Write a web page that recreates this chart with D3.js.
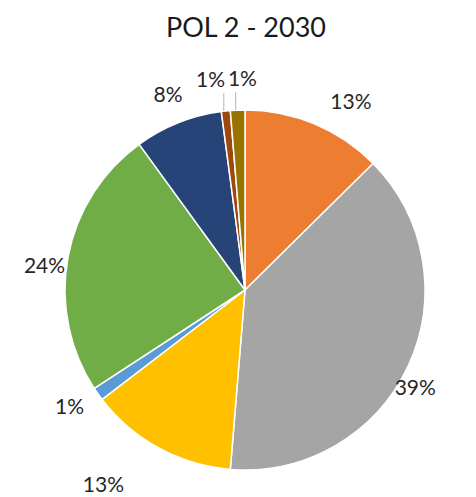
<!DOCTYPE html>
<html>
<head>
<meta charset="utf-8">
<script src="https://cdn.jsdelivr.net/npm/d3@7"></script>
<style>
  html, body { margin: 0; padding: 0; background: #fff; }
  svg { display: block; }
</style>
</head>
<body>
<svg id="chart" width="476" height="497"></svg>
<script>
// ---- data ----
const title = "POL 2 - 2030";
const categories = ["A", "B", "C", "D", "E", "F", "G", "H"];
const values = [12.6, 38.7, 13.3, 1.2, 24.2, 7.9, 0.8, 1.3];
const colors = ["#ED7D31", "#A5A5A5", "#FFC000", "#5B9BD5", "#70AD47", "#264478", "#9E480E", "#997300"];

// ---- layout (not data) ----
const W = 476, H = 497;
const cx = 245, cy = 290, R = 180, labelR = 210;
const labelNudge = [[25, 4], [-20, 8], [-41, 9], [-4, -6], [6, 13], [1, -2], [-12, -3], [6, -3]];
const leaderIdx = [6, 7];

const svg = d3.select("#chart");

svg.append("text")
  .attr("x", 246).attr("y", 26)
  .attr("text-anchor", "middle")
  .attr("dominant-baseline", "central")
  .attr("font-family", "Lato, 'Open Sans', sans-serif")
  .attr("font-size", 27)
  .attr("fill", "#1a1a1a")
  .text(title);

const pie = d3.pie().sort(null).value(d => d.v);
const data = categories.map((c, i) => ({ c, v: values[i], color: colors[i] }));
const arcs = pie(data);

const arc = d3.arc().innerRadius(0).outerRadius(R);
const edgeArc = d3.arc().innerRadius(R).outerRadius(R);
const labelArc = d3.arc().innerRadius(labelR).outerRadius(labelR);

const g = svg.append("g").attr("transform", `translate(${cx},${cy})`);

g.selectAll("path.slice")
  .data(arcs)
  .join("path")
  .attr("class", "slice")
  .attr("d", arc)
  .attr("fill", d => d.data.color)
  .attr("stroke", "#fff")
  .attr("stroke-width", 1.5)
  .attr("stroke-linejoin", "round");

const labelPos = arcs.map((d, i) => {
  const [x, y] = labelArc.centroid(d);
  return [x + labelNudge[i][0], y + labelNudge[i][1]];
});

// leader lines for tiny slices
g.selectAll("line.leader")
  .data(leaderIdx)
  .join("line")
  .attr("class", "leader")
  .attr("x1", i => edgeArc.centroid(arcs[i])[0] - 2)
  .attr("y1", i => edgeArc.centroid(arcs[i])[1])
  .attr("x2", i => edgeArc.centroid(arcs[i])[0] - 2)
  .attr("y2", i => labelPos[i][1] + 15)
  .attr("stroke", "#b5b5b5")
  .attr("stroke-width", 1);

g.selectAll("text.lbl")
  .data(arcs)
  .join("text")
  .attr("class", "lbl")
  .attr("x", (d, i) => labelPos[i][0])
  .attr("y", (d, i) => labelPos[i][1])
  .attr("text-anchor", "middle")
  .attr("dominant-baseline", "central")
  .attr("font-family", "Lato, 'Open Sans', sans-serif")
  .attr("font-size", 21)
  .attr("fill", "#262626")
  .text(d => Math.round(d.data.v) + "%");
</script>
</body>
</html>
